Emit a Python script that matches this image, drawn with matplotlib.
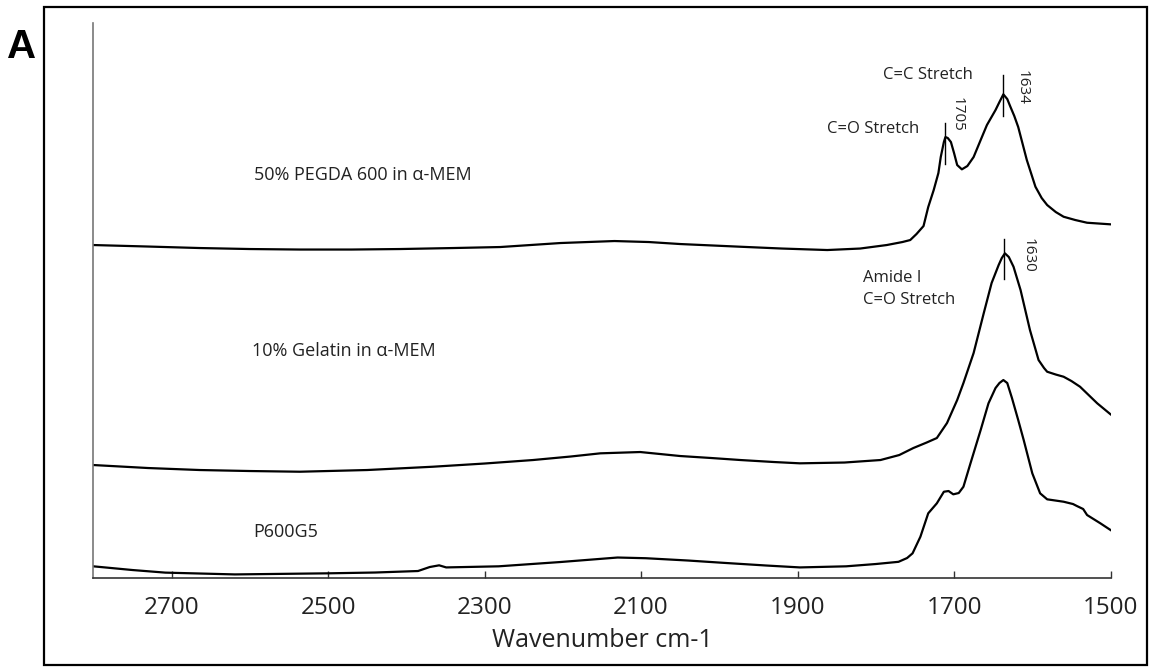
import numpy as np
import matplotlib
matplotlib.use("Agg")
import matplotlib.pyplot as plt
from matplotlib.patches import Rectangle

plt.rcParams['font.family'] = ['Open Sans', 'DejaVu Sans']

# spectra (wavenumber, offset absorbance in arbitrary units)
pegda_wn = [2800, 2730, 2664, 2600, 2536, 2470, 2408, 2340, 2280, 2203, 2134, 2090, 2050,
            1973, 1920, 1862, 1820, 1786, 1766, 1756, 1748, 1739, 1733, 1726, 1720, 1717,
            1713, 1711, 1708, 1704, 1700, 1696, 1690, 1683, 1675, 1666, 1658, 1647, 1642,
            1637, 1632, 1628, 1623, 1618, 1612, 1607, 1596, 1588, 1581, 1570, 1560, 1545,
            1530, 1500]
pegda_abs = [333, 331.5, 330, 329, 328.5, 328.5, 329, 330, 331, 335, 337, 336, 334,
             331.3, 329.5, 328, 329.5, 333, 336, 338, 344, 352, 371, 388, 405, 421,
             436, 441, 440, 436, 425, 413, 408.7, 412, 421, 438, 453, 468, 476,
             483.7, 479, 471.3, 462, 451, 433, 418, 391.3, 380, 373, 366, 361.3, 358,
             355.3, 353.7]

gelatin_wn = [2800, 2730, 2664, 2600, 2536, 2450, 2366, 2300, 2238, 2190, 2152, 2101, 2050,
              2010, 1973, 1930, 1897, 1840, 1794, 1770, 1752, 1735, 1722, 1709, 1696, 1688,
              1675, 1662, 1652, 1643, 1639, 1635, 1630, 1624, 1615, 1603, 1592, 1585, 1581,
              1570, 1560, 1550, 1539, 1528, 1517, 1500]
gelatin_abs = [113, 110, 108, 107, 106.3, 108, 111.3, 114.5, 118, 121.5, 124.7, 126, 122,
               120, 118, 116, 114.7, 115.5, 118, 123, 130, 135.5, 140, 155, 178, 195,
               225, 265, 295, 313, 320, 324.7, 321, 311.3, 288, 248, 218, 210, 206.3,
               203.5, 201.3, 197, 191.3, 183, 174.7, 163.7]

p600g5_wn = [2800, 2750, 2708, 2619, 2500, 2440, 2385, 2370, 2358, 2349, 2282, 2203, 2130,
             2094, 2040, 1995, 1940, 1897, 1838, 1800, 1771, 1760, 1753, 1743, 1733, 1722,
             1713, 1707, 1701, 1694, 1688, 1679, 1666, 1656, 1647, 1642, 1637, 1632, 1626,
             1618, 1611, 1600, 1590, 1581, 1560, 1548, 1543, 1535, 1530, 1513, 1500]
p600g5_abs = [11.7, 8, 5.4, 3.6, 4.7, 5.5, 7, 11, 12.7, 10.6, 11.7, 16, 20.5,
              19.8, 17.5, 15.2, 12.5, 10.6, 11.7, 14, 16.2, 20, 24.7, 41.3, 64.7, 74.7,
              86.3, 87, 83.7, 85, 91.3, 114.7, 148, 174.7, 190, 195, 198, 195, 180,
              158, 138, 104.7, 84.7, 78.7, 76.3, 74, 72, 69, 63, 54.7, 48]

series_names = ['50% PEGDA 600 in \u03b1-MEM', '10% Gelatin in \u03b1-MEM', 'P600G5']
x_ticks = [2700, 2500, 2300, 2100, 1900, 1700, 1500]

txt = '#222222'

fig = plt.figure(figsize=(11.5, 6.68), dpi=100)
ax = fig.add_axes([0.0811, 0.1347, 0.8846, 0.8308])

ax.plot(pegda_wn, pegda_abs, color='black', lw=1.6)
ax.plot(gelatin_wn, gelatin_abs, color='black', lw=1.6)
ax.plot(p600g5_wn, p600g5_abs, color='black', lw=1.6)

ax.set_xlim(2800, 1500)
ax.set_ylim(0, 555)
ax.set_xticks(x_ticks)
ax.set_yticks([])
ax.tick_params(axis='x', direction='in', length=5, width=1, color='#333333',
               labelsize=17.5, labelcolor=txt, pad=13)
ax.set_xlabel('Wavenumber cm-1', fontsize=18, color=txt, labelpad=6)

for s in ['top', 'right']:
    ax.spines[s].set_visible(False)
ax.spines['left'].set_color('#777777')
ax.spines['left'].set_linewidth(1.2)
ax.spines['bottom'].set_color('#333333')
ax.spines['bottom'].set_linewidth(1.2)

# series labels
ax.text(2595, 403, series_names[0], fontsize=13, color=txt, va='center')
ax.text(2597, 227, series_names[1], fontsize=13, color=txt, va='center')
ax.text(2595, 46, series_names[2], fontsize=13, color=txt, va='center')

# peak markers
ax.plot([1711, 1711], [414, 455], color='black', lw=1)
ax.plot([1637.5, 1637.5], [462, 503], color='black', lw=1)
ax.plot([1636, 1636], [299, 339], color='black', lw=1)
ax.text(1696, 464, '1705', fontsize=11, color=txt, rotation=270, ha='center', va='center')
ax.text(1613, 491, '1634', fontsize=11, color=txt, rotation=270, ha='center', va='center')
ax.text(1605, 323, '1630', fontsize=11, color=txt, rotation=270, ha='center', va='center')

ax.text(1745, 449, 'C=O Stretch', fontsize=12, color=txt, ha='right', va='center')
ax.text(1676, 503, 'C=C Stretch', fontsize=12, color=txt, ha='right', va='center')
ax.text(1816, 300, 'Amide I', fontsize=12, color=txt, ha='left', va='center')
ax.text(1816, 278, 'C=O Stretch', fontsize=12, color=txt, ha='left', va='center')

# panel letter and frame
fig.text(0.0189, 0.930, 'A', fontsize=29, fontweight='bold', family='Liberation Sans',
         ha='center', va='center', color='black')
fig.add_artist(Rectangle((0.0385, 0.0045), 0.9589, 0.9845, transform=fig.transFigure,
                         fill=False, edgecolor='black', lw=1.6))

fig.savefig('out.png', dpi=100)
